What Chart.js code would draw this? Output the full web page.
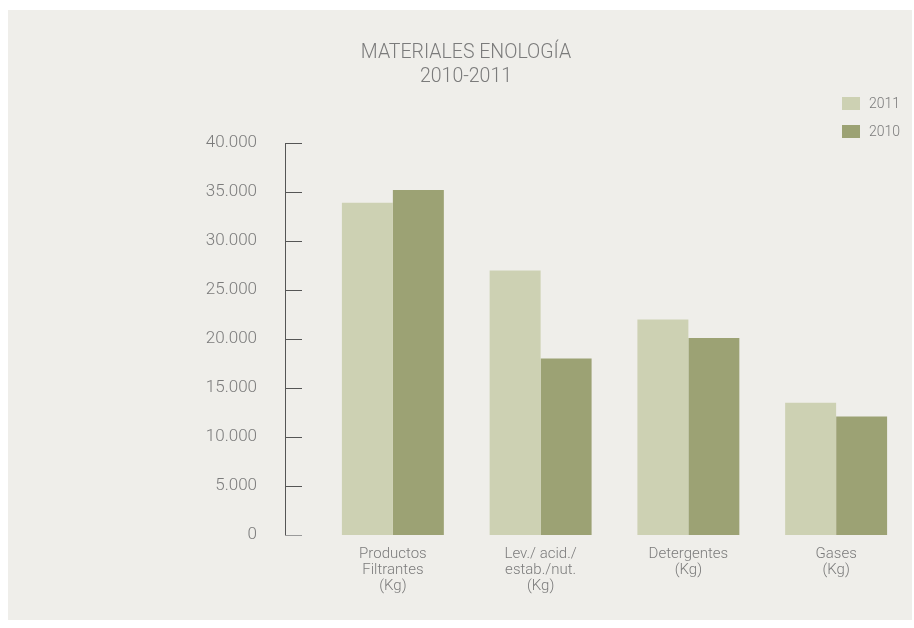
<!DOCTYPE html>
<html>
<head>
<meta charset="utf-8">
<script src="https://cdn.jsdelivr.net/npm/chart.js@4.4.1/dist/chart.umd.min.js"></script>
<style>
  html, body { margin: 0; padding: 0; background: #ffffff; }
  #panel { position: absolute; left: 8px; top: 10px; width: 904px; height: 610px; background: #efeeea; }
  canvas { display: block; }
</style>
</head>
<body>
<div id="panel"><canvas id="enoChart" width="904" height="610"></canvas></div>
<script>
// categories and values (Kg)
const categories = [
  ['Productos', 'Filtrantes', '(Kg)'],
  ['Lev./ acid./', 'estab./nut.', '(Kg)'],
  ['Detergentes', '(Kg)'],
  ['Gases', '(Kg)']
];
const seriesNames = ['2011', '2010'];
const values2011 = [33900, 27000, 22000, 13500];
const values2010 = [35200, 18000, 20100, 12100];
const yTicks = [0, 5000, 10000, 15000, 20000, 25000, 30000, 35000, 40000];
const titleLines = ['MATERIALES ENOLOGÍA', '2010-2011'];

const textGrey = '#7b7b7b';
const fontFamily = 'Roboto, "Open Sans", sans-serif';

function fmt(v) {
  return String(v).replace(/\B(?=(\d{3})+(?!\d))/g, '.');
}

// y axis line + inward ticks, sitting a bit left of the bars
const axisPlugin = {
  id: 'axisLine',
  afterDraw(chart) {
    const ctx = chart.ctx;
    const y = chart.scales.y;
    const x0 = chart.chartArea.left - 34;
    ctx.save();
    ctx.lineWidth = 1;
    ctx.strokeStyle = '#555555';
    ctx.beginPath();
    ctx.moveTo(x0 + 0.5, y.getPixelForValue(yTicks[yTicks.length - 1]));
    ctx.lineTo(x0 + 0.5, y.getPixelForValue(0));
    ctx.stroke();
    yTicks.forEach(t => {
      const py = Math.round(y.getPixelForValue(t)) + 0.5;
      ctx.strokeStyle = t === 0 ? '#9a9a9a' : '#555555';
      ctx.beginPath();
      ctx.moveTo(x0, py);
      ctx.lineTo(x0 + 17, py);
      ctx.stroke();
    });
    ctx.restore();
  }
};

// stacked legend at top right
const legendPlugin = {
  id: 'stackLegend',
  afterDraw(chart) {
    const ctx = chart.ctx;
    const bx = chart.width - 70;
    ctx.save();
    ctx.font = '300 14px ' + fontFamily;
    ctx.textBaseline = 'middle';
    ctx.textAlign = 'left';
    chart.data.datasets.forEach((ds, i) => {
      const by = 87 + i * 28;
      ctx.fillStyle = ds.backgroundColor;
      ctx.fillRect(bx, by, 18, 13);
      ctx.fillStyle = textGrey;
      ctx.fillText(ds.label, bx + 27, by + 7);
    });
    ctx.restore();
  }
};

const ctx = document.getElementById('enoChart').getContext('2d');
new Chart(ctx, {
  type: 'bar',
  data: {
    labels: categories,
    datasets: [
      { label: seriesNames[0], data: values2011, backgroundColor: '#cdd1b3' },
      { label: seriesNames[1], data: values2010, backgroundColor: '#9ca274' }
    ]
  },
  options: {
    responsive: false,
    animation: false,
    devicePixelRatio: 1,
    layout: { padding: { left: 14, right: 2, top: 0, bottom: 0 } },
    datasets: {
      bar: { categoryPercentage: 0.69, barPercentage: 1.0, borderWidth: 0 }
    },
    scales: {
      x: {
        grid: { display: false, drawTicks: false },
        border: { display: false },
        ticks: {
          color: textGrey,
          font: { family: fontFamily, size: 15, weight: '300', lineHeight: 16 / 15 },
          padding: 11,
          autoSkip: false,
          maxRotation: 0,
          minRotation: 0
        },
        afterFit(scale) { scale.height = 85; }
      },
      y: {
        min: 0,
        max: 40000,
        grid: { display: false, drawTicks: false },
        border: { display: false },
        ticks: {
          stepSize: 5000,
          color: textGrey,
          padding: 62,
          font: { family: fontFamily, size: 17, weight: '300' },
          callback: v => fmt(v)
        },
        afterFit(scale) { scale.width = 297; }
      }
    },
    plugins: {
      legend: { display: false },
      tooltip: { enabled: false },
      title: {
        display: true,
        text: titleLines,
        color: textGrey,
        font: { family: fontFamily, size: 19.5, weight: '300', lineHeight: 24 / 19.5 },
        padding: { top: 31.5, bottom: 53.5 }
      }
    }
  },
  plugins: [axisPlugin, legendPlugin]
});
</script>
</body>
</html>
